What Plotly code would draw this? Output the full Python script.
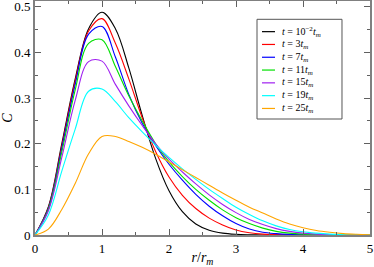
import plotly.graph_objects as go

r = [0.0, 0.2, 0.4, 0.6, 0.8, 1.0, 1.2, 1.4, 1.6, 1.8, 2.0, 2.2, 2.4, 2.6,
     2.8, 3.0, 3.2, 3.4, 3.6, 3.8, 4.0, 4.2, 4.4, 4.6, 4.8, 5.0]

c_t001 = [0, 0.062, 0.200, 0.342, 0.452, 0.488, 0.452, 0.366, 0.262, 0.168, 0.097, 0.051, 0.024,
          0.0104, 0.0041, 0.0015, 0.0005, 0.0001, 0, 0, 0, 0, 0, 0, 0, 0]
c_t03 = [0, 0.060, 0.195, 0.337, 0.447, 0.474, 0.420, 0.342, 0.257, 0.183, 0.127, 0.087, 0.058,
         0.037, 0.022, 0.011, 0.005, 0.002, 0.001, 0.0004, 0.0001, 0, 0, 0, 0, 0]
c_t07 = [0, 0.058, 0.190, 0.330, 0.440, 0.457, 0.390, 0.308, 0.245, 0.196, 0.155, 0.120, 0.089,
         0.063, 0.042, 0.025, 0.013, 0.006, 0.003, 0.0013, 0.0005, 0.0002, 0.0001, 0, 0, 0]
c_t11 = [0, 0.056, 0.182, 0.318, 0.420, 0.428, 0.369, 0.305, 0.250, 0.200, 0.160, 0.128, 0.100,
         0.076, 0.055, 0.038, 0.025, 0.015, 0.008, 0.004, 0.002, 0.001, 0.0005, 0.0002, 0, 0]
c_t15 = [0, 0.053, 0.170, 0.295, 0.380, 0.381, 0.330, 0.283, 0.240, 0.200, 0.166, 0.138, 0.112,
         0.088, 0.067, 0.049, 0.034, 0.023, 0.014, 0.008, 0.004, 0.002, 0.001, 0.0005, 0.0002, 0]
c_t19 = [0, 0.044, 0.140, 0.232, 0.315, 0.320, 0.292, 0.257, 0.226, 0.197, 0.170, 0.145, 0.122,
         0.100, 0.080, 0.061, 0.045, 0.031, 0.020, 0.012, 0.007, 0.004, 0.002, 0.001, 0.0005, 0.0002]
c_t25 = [0, 0.013, 0.056, 0.113, 0.178, 0.216, 0.216, 0.205, 0.192, 0.177, 0.160, 0.143, 0.126,
         0.109, 0.092, 0.076, 0.061, 0.048, 0.035, 0.024, 0.016, 0.010, 0.006, 0.003, 0.0015, 0.0007]

labels = ["<i>t</i> = 10<sup>−2</sup><i>t<sub>m</sub></i>",
          "<i>t</i> = 3<i>t<sub>m</sub></i>",
          "<i>t</i> = 7<i>t<sub>m</sub></i>",
          "<i>t</i> = 11<i>t<sub>m</sub></i>",
          "<i>t</i> = 15<i>t<sub>m</sub></i>",
          "<i>t</i> = 19<i>t<sub>m</sub></i>",
          "<i>t</i> = 25<i>t<sub>m</sub></i>"]
series = [c_t001, c_t03, c_t07, c_t11, c_t15, c_t19, c_t25]
colors = ["#000000", "#ff0000", "#0000ff", "#00e000", "#a020f0", "#00ffff", "#ffa500"]

font_fam = "Liberation Serif"

fig = go.Figure()
for lab, ys, col in zip(labels, series, colors):
    fig.add_trace(go.Scatter(x=r, y=ys, mode="lines", name=lab, showlegend=False,
                             line=dict(color=col, width=1.1, shape="spline", smoothing=1.0)))

# legend box drawn in paper coordinates
lg_x0, lg_x1, lg_y0, lg_y1 = 0.6627, 0.9164, 0.4957, 0.9218
fig.add_shape(type="rect", xref="paper", yref="paper", x0=lg_x0, x1=lg_x1, y0=lg_y0, y1=lg_y1,
              line=dict(color="#555555", width=1), fillcolor="white", layer="above")
row_top = 0.869
row_step = 0.0547
for i, (lab, col) in enumerate(zip(labels, colors)):
    yy = row_top - i * row_step
    fig.add_shape(type="line", xref="paper", yref="paper", x0=0.6776, x1=0.7164, y0=yy, y1=yy,
                  line=dict(color=col, width=1.2), layer="above")
    fig.add_annotation(xref="paper", yref="paper", x=0.7313, y=yy, xanchor="left", yanchor="middle",
                       text=lab, showarrow=False,
                       font=dict(family=font_fam, size=10, color="black"))

axis_common = dict(showline=True, linecolor="#808080", linewidth=2, mirror="ticks",
                   ticks="inside", ticklen=6, tickwidth=1, tickcolor="#606060",
                   showgrid=False, automargin=False, ticklabeloverflow="allow",
                   tickfont=dict(family=font_fam, size=13, color="black"))

fig.update_layout(
    width=374, height=267,
    margin=dict(l=35, r=4, t=1, b=32),
    plot_bgcolor="white", paper_bgcolor="white",
    xaxis=dict(range=[0, 5], dtick=1, tick0=0, zeroline=False,
               minor=dict(dtick=0.5, ticks="inside", ticklen=3, tickcolor="#606060"),
               title=dict(text="<i>r</i>/<i>r<sub>m</sub></i>", standoff=2,
                          font=dict(family=font_fam, size=14, color="black")),
               **axis_common),
    yaxis=dict(range=[0, 0.5127], dtick=0.1, tick0=0, zeroline=True, zerolinecolor="#000000",
               zerolinewidth=2,
               minor=dict(dtick=0.05, ticks="inside", ticklen=3, tickcolor="#606060"),
               title=dict(text="<i>C</i>", standoff=8,
                          font=dict(family=font_fam, size=14, color="black")),
               **axis_common),
    showlegend=False,
)

fig.write_html("out.html", config={"displayModeBar": False, "staticPlot": True},
               post_script="document.body.style.margin='0';document.body.style.overflow='hidden';")
